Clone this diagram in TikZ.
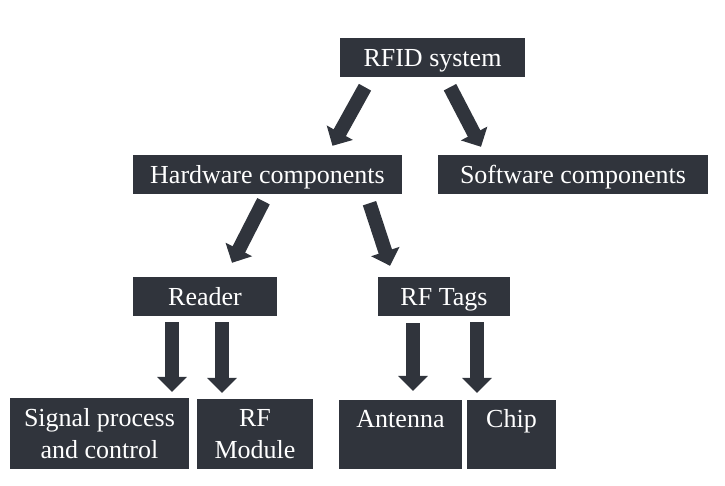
\documentclass[tikz,border=0pt]{standalone}
\usepackage{fontspec}
\setmainfont{Liberation Serif}
\usetikzlibrary{calc,arrows.meta}
\definecolor{boxfill}{HTML}{30343C}
\tikzset{
  box/.style={fill=boxfill, text=white, inner sep=0pt, align=center,
    font=\fontsize{26}{32}\selectfont},
  oneline/.style={text height=23pt, text depth=5pt},
  blockarrow/.style={draw=boxfill, line width=14pt,
    -{Triangle[width=29pt,length=15pt]}}
}
\begin{document}
\begin{tikzpicture}[x=1pt,y=-1pt]
\useasboundingbox (0,0) rectangle (725,485);
\node[box, oneline, minimum width=185, minimum height=39] (rfid) at (432.5,57.5) {RFID system};
\node[box, oneline, minimum width=269, minimum height=39] (hw) at (267.5,174.5) {Hardware components};
\node[box, oneline, minimum width=270, minimum height=39] (sw) at (573,174.5) {Software components};
\node[box, oneline, minimum width=144, minimum height=39] (reader) at (205,296.5) {Reader};
\node[box, oneline, minimum width=132, minimum height=39] (tags) at (444,296.5) {RF Tags};
\node[box, minimum width=179, minimum height=71] (sig) at (99.5,433.5) {Signal process\\and control};
\node[box, minimum width=116, minimum height=70] (mod) at (255,434) {RF\\Module};
\node[box, minimum width=123, minimum height=69] (ant) at (400.5,434.5) {Antenna\\~};
\node[box, minimum width=89, minimum height=69] (chip) at (511.5,434.5) {Chip\\~};

\draw[blockarrow] ($(rfid.south)+(-67.5,10)$) -- ($(hw.north)+(65,-9)$);
\draw[blockarrow] ($(rfid.south)+(17.5,10)$) -- ($(sw.north)+(-92,-8)$);
\draw[blockarrow] ($(hw.south)+(-4,7)$) -- ($(reader.north)+(27,-14)$);
\draw[blockarrow] ($(hw.south)+(102,9)$) -- ($(tags.north)+(-54,-11)$);
\draw[blockarrow] ($(reader.south)+(-33,6)$) -- ($(sig.north)+(72.5,-6)$);
\draw[blockarrow] ($(reader.south)+(17,6)$) -- ($(mod.north)+(-33,-6)$);
\draw[blockarrow] ($(tags.south)+(-31,7)$) -- ($(ant.north)+(12.5,-9)$);
\draw[blockarrow] ($(tags.south)+(33,6)$) -- ($(chip.north)+(-34.5,-7)$);
\end{tikzpicture}
\end{document}
